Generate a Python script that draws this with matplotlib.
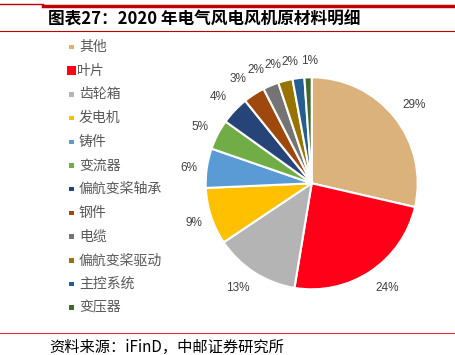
import numpy as np
import matplotlib
matplotlib.use('Agg')
import matplotlib.pyplot as plt
from matplotlib.patches import Rectangle
from matplotlib.lines import Line2D

plt.rcParams['font.family'] = ['Noto Sans CJK SC', 'DejaVu Sans']

# data (wedge sizes estimated, labels rounded)
labels = ['其他', '叶片', '齿轮箱', '发电机', '铸件', '变流器', '偏航变桨轴承',
          '钢件', '电缆', '偏航变桨驱动', '主控系统', '变压器']
shares = [28.6, 24.0, 13.0, 8.7, 6.0, 4.6, 4.3, 3.3, 2.4, 2.2, 1.8, 1.1]
colors = ['#DBB27C', '#FF0018', '#B4B4B4', '#FFC000', '#5B9BD5', '#70AD47',
          '#264478', '#9E480E', '#747474', '#997300', '#255E91', '#43682B']
title = '图表27：2020 年电气风电风机原材料明细'
source = '资料来源：iFinD，中邮证券研究所'

# label placement (radius factor, angle nudge in degrees)
lab_dist = [1.22, 1.22, 1.21, 1.17, 1.17, 1.18, 1.2, 1.21, 1.19, 1.17, 1.16, 1.15]
lab_nudge = [-1, 2, -2.5, 0.5, 1.3, 0.5, 0.6, 2.3, 3.7, 3.7, 3.0, -0.8]

W, H = 456, 355
fig = plt.figure(figsize=(W / 100, H / 100), dpi=100)

# pie axes placed in pixel terms
cx, cy, R = 311.7, 183.3, 106
lim = 1.3
half = lim * R
ax = fig.add_axes([(cx - half) / W, (H - cy - half) / H, 2 * half / W, 2 * half / H])
wedges, _ = ax.pie(shares, colors=colors, startangle=90, counterclock=False,
                   wedgeprops=dict(edgecolor='white', linewidth=1.5))
for w, v, d, n in zip(wedges, shares, lab_dist, lab_nudge):
    a = np.deg2rad((w.theta1 + w.theta2) / 2 + n)
    ax.text(d * np.cos(a), d * np.sin(a), f'{round(v)}%', ha='center', va='center',
            fontsize=8.5, color='#404040', family='Liberation Sans')
ax.set_xlim(-lim, lim)
ax.set_ylim(-lim, lim)
ax.set_aspect('equal')
ax.axis('off')


def px(x, y):
    return x / W, 1 - y / H


# header / footer rules
fig.add_artist(Line2D([0, 43 / W], [1 - 4 / H] * 2, color='#C00000', lw=1))
fig.add_artist(Line2D([43 / W, 1], [1 - 5.5 / H] * 2, color='#C00000', lw=2.5))
fig.add_artist(Line2D([0, 1], [1 - 31 / H] * 2, color='#C00000', lw=0.8))
fig.add_artist(Line2D([0, 1], [1 - 333 / H] * 2, color='#E03030', lw=0.8))

fig.text(*px(48, 19), title, fontsize=12, fontweight='bold', va='center', ha='left')
fig.text(*px(49, 347), source, fontsize=11, va='center', ha='left')

# legend drawn by hand
y0, step = 47, 23.7
for i, (lab, col) in enumerate(zip(labels, colors)):
    y = y0 + i * step
    s = 8.5 if lab == '叶片' else 4.5
    mx = 71.5
    fig.add_artist(Rectangle(((mx - s / 2) / W, 1 - (y + s / 2) / H), s / W, s / H,
                             transform=fig.transFigure, color=col, lw=0))
    tx = 77 if lab == '叶片' else 79
    fig.text(*px(tx, y), lab, fontsize=10, color='#595959', va='center', ha='left')

fig.savefig('out.png', dpi=100)
